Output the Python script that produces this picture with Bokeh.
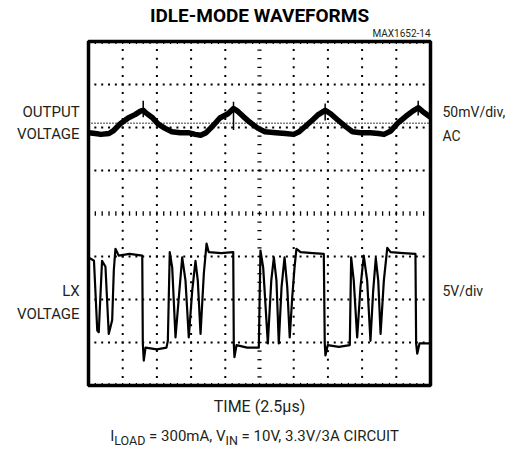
import numpy as np
from bokeh.plotting import figure
from bokeh.models import Range1d, Label, Div
from bokeh.layouts import column
from bokeh.embed import file_html
from bokeh.resources import INLINE

# ---- scope settings ----
TIME_PER_DIV_US = 2.5      # TIME (2.5us/div)
OUT_MV_PER_DIV = 50        # output: 50mV/div, AC
LX_V_PER_DIV = 5           # LX: 5V/div
OUT_CENTER_DIV = 6.0       # screen position of output trace zero
LX_ZERO_DIV = 1.0          # screen position of LX ground
N_XDIV, N_YDIV = 10, 8

out_ref_mv = 5

# ---- output voltage (mV, AC coupled) ----
out_t_us = [0, 0.5, 0.9, 1.5, 1.8, 2.3, 2.9, 3.4, 3.8, 4.0, 4.2, 4.7, 5.1, 5.6, 6.1, 6.7,
            7.3, 7.8, 8.2, 8.6, 9.1, 9.6, 10.2, 10.6, 10.9, 11.3, 11.8, 12.4, 12.9, 13.7,
            14.4, 15.0, 15.4, 15.9, 16.4, 16.8, 17.3, 17.7, 18.2, 18.8, 19.3, 19.9, 20.6,
            21.2, 21.6, 22.1, 22.6, 23.2, 23.7, 24.1, 24.4, 25.0]
out_mv = [-6, -7, -8, -7, -4, 4, 11, 15, 19, 20, 17, 11, 4, -1, -5, -6,
          -6, -8, -9, -6, 2, 11, 16, 22, 19, 13, 6, -1, -5, -6,
          -7, -8, -5, 2, 9, 15, 20, 16, 9, 1, -5, -6, -6,
          -7, -8, -4, 5, 13, 19, 23, 19, 12]
spike_t_us = [4.0, 10.6, 17.3, 24.1]
spike_top_mv = [31, 30, 28, 31]
spike_bot_mv = [12, -3, 8, 14]

# ---- LX node voltage (V) ----
lx_t_us = [0.0, 0.4, 0.64, 0.75, 0.99, 1.24, 1.48, 1.73, 1.85, 1.97, 2.21, 3.0, 3.93,
           3.97, 4.04, 4.17, 5.0, 5.70, 5.80, 5.94, 6.12, 6.36, 6.60, 6.85, 7.09, 7.33,
           7.58, 7.82, 7.99, 8.19, 8.43, 8.63, 8.79, 9.7, 10.58, 10.62, 10.67, 10.82,
           11.6, 12.45, 12.57, 12.77, 13.11, 13.36, 13.55, 13.74, 13.91, 14.11, 14.33,
           14.53, 14.71, 14.89, 15.06, 15.20, 15.50, 16.4, 17.20, 17.27, 17.32, 17.49,
           18.3, 19.10, 19.20, 19.39, 19.64, 19.88, 20.12, 20.37, 20.61, 20.81, 21.00,
           21.18, 21.35, 21.59, 21.84, 22.08, 23.0, 23.90, 23.95, 24.03, 24.20, 25.0]
lx_v = [9.9, 9.5, 1.4, 1.2, 9.5, 8.8, 1.0, 2.6, 8.4, 10.9, 10.1, 10.3, 10.1,
        -0.1, -2.1, -0.6, -0.8, -0.6, 0.2, 10.5, 8.7, 0.6, 5.2, 9.9, 7.2, 0.6,
        6.0, 9.5, 7.2, 1.0, 8.0, 11.5, 10.5, 10.4, 10.5, -0.1, -1.7, -0.3,
        -0.6, -0.6, 10.7, 8.7, -0.1, 7.2, 9.9, 7.2, -0.1, 6.4, 9.9,
        6.4, 0.6, 5.2, 8.7, 10.9, 10.5, 10.4, 10.3, -0.1, -1.5, -0.3,
        -0.5, -0.3, 9.9, 7.2, 0.6, 6.4, 10.1, 7.2, 0.2, 6.0, 9.8,
        7.2, 1.0, 7.2, 11.0, 10.5, 10.4, 10.3, -0.1, -1.3, -0.1, -0.1]

FONT = "Roboto"

# canvas geometry: graticule occupies px 88..430 (x) and 41..385 (y)
W, H = 517, 420
PX_X, PX_Y = 34.2, 43.0
GX0, GY_TOP = 88, 41
x0 = -GX0 / PX_X
x1 = (W - GX0) / PX_X
y1 = N_YDIV + GY_TOP / PX_Y
y0 = -(H - (GY_TOP + N_YDIV * PX_Y)) / PX_Y

p = figure(width=W, height=H, output_backend="svg", toolbar_location=None,
           x_range=Range1d(x0, x1), y_range=Range1d(y0, y1),
           x_axis_type=None, y_axis_type=None,
           min_border=0, min_border_left=0, min_border_right=0,
           min_border_top=0, min_border_bottom=0)
p.outline_line_color = None
p.background_fill_color = "white"
p.border_fill_color = "white"
p.xgrid.visible = False
p.ygrid.visible = False

# ---- graticule ----
fx = np.arange(1, N_XDIV * 5) / 5.0
fy = np.arange(1, N_YDIV * 5) / 5.0
gx, gy = [], []
for k in range(1, N_XDIV):
    if k == N_XDIV // 2:
        continue
    gx += [k] * len(fy)
    gy += list(fy)
for k in range(1, N_YDIV):
    if k == N_YDIV // 2:
        continue
    gx += list(fx)
    gy += [k] * len(fx)
p.scatter(gx, gy, marker="square", size=2, color="black", line_width=0)

cy = N_YDIV / 2
p.segment(x0=fx, y0=cy - 0.05, x1=fx, y1=cy + 0.05, line_color="black", line_width=1.3)
cx = N_XDIV / 2
p.segment(x0=cx - 0.06, y0=fy, x1=cx + 0.06, y1=fy, line_color="black", line_width=1.3)
# edge ticks
p.segment(x0=fx, y0=N_YDIV, x1=fx, y1=N_YDIV - 0.06, line_color="black", line_width=1.2)
p.segment(x0=fx, y0=0, x1=fx, y1=0.06, line_color="black", line_width=1.2)
# border
p.quad(left=0, right=N_XDIV, bottom=0, top=N_YDIV, fill_color=None,
       line_color="black", line_width=3.5)

# ---- traces ----
to_x = lambda t: np.asarray(t) / TIME_PER_DIV_US
to_out = lambda mv: OUT_CENTER_DIV + np.asarray(mv) / OUT_MV_PER_DIV
to_lx = lambda v: LX_ZERO_DIV + np.asarray(v) / LX_V_PER_DIV

p.line([0, N_XDIV], [to_out(out_ref_mv)] * 2, line_color="black", line_width=1.5, line_dash="1 2")
p.line(to_x(out_t_us), to_out(out_mv), line_color="black", line_width=5.5, line_join="round")
p.segment(x0=to_x(spike_t_us), y0=to_out(spike_bot_mv), x1=to_x(spike_t_us), y1=to_out(spike_top_mv),
          line_color="black", line_width=1.5)
p.line(to_x(lx_t_us), to_lx(lx_v), line_color="black", line_width=2.2, line_join="round")

# ---- texts ----
def lab(x, y, text, align="center", size="15px", style="normal", color="#231f20"):
    p.add_layout(Label(x=x, y=y, text=text, text_align=align, text_baseline="middle",
                       text_font=FONT, text_font_size=size, text_font_style=style,
                       text_color=color))

lab(5.0, 8.60, "IDLE-MODE WAVEFORMS", size="19px", style="bold", color="black")
lab(10.0, 8.18, "MAX1652-14", align="right", size="10px")
lab(-0.26, 6.35, "OUTPUT", align="right")
lab(-0.26, 5.84, "VOLTAGE", align="right")
lab(-0.26, 2.19, "LX", align="right")
lab(-0.26, 1.67, "VOLTAGE", align="right")
lab(10.35, 6.35, "50mV/div,", align="left", size="14px")
lab(10.35, 5.81, "AC", align="left", size="14px")
lab(10.35, 2.19, "5V/div", align="left", size="14px")
lab(5.0, -0.49, "TIME (2.5\u00b5s)", size="16px")

sub = Div(text="I<sub>LOAD</sub> = 300mA, V<sub>IN</sub> = 10V, 3.3V/3A CIRCUIT",
          width=W, height=34, margin=(0, 0, 0, 0),
          styles={"font-family": FONT, "font-size": "15px", "text-align": "center",
                  "width": f"{W - 8}px", "line-height": "32px", "color": "#231f20"})

layout = column(p, sub, spacing=0)
open("out.html", "w").write(file_html(layout, INLINE))
